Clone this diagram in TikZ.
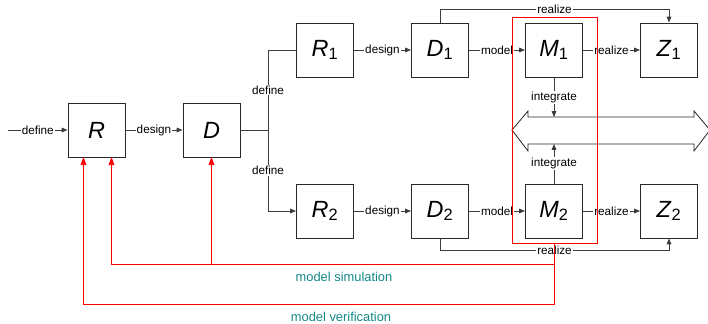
\documentclass[tikz,border=0pt]{standalone}
\usepackage{fontspec}
\setmainfont{Liberation Sans}
\usetikzlibrary{arrows.meta}
\definecolor{boxline}{RGB}{40,40,40}
\definecolor{wire}{RGB}{60,60,60}
\definecolor{noteteal}{RGB}{20,135,135}
\newcommand{\blocklabel}[2]{\textit{#1}\textsubscript{#2}}
\newcommand{\drawchain}[2]{
  \node[blk] (R#1) at (325,#2) {\blocklabel{R}{#1}};
  \node[blk] (D#1) at (440,#2) {\blocklabel{D}{#1}};
  \node[blk] (M#1) at (554,#2) {\blocklabel{M}{#1}};
  \node[blk] (Z#1) at (669,#2) {\blocklabel{Z}{#1}};
  \draw[flow] (R#1) -- node[lbl]{design} (D#1);
  \draw[flow] (D#1) -- node[lbl]{model} (M#1);
  \draw[flow] (M#1) -- node[lbl]{realize} (Z#1);
}

\begin{document}
\begin{tikzpicture}[x=0.03cm,y=-0.03cm,
    blk/.style={draw=boxline,line width=0.8pt,minimum width=1.71cm,minimum height=1.62cm,
      inner sep=0pt,font=\fontsize{20}{24}\selectfont},
    lbl/.style={fill=white,inner sep=1pt,font=\fontsize{10}{12}\selectfont},
    flow/.style={draw=wire,line width=0.7pt,-{Triangle[length=5pt,width=4pt]}},
    wireline/.style={draw=wire,line width=0.7pt},
    fb/.style={draw=red,line width=0.8pt},
    fbarrow/.style={fb,-{Triangle[length=7pt,width=5pt]},red},
    note/.style={text=noteteal,font=\fontsize{11}{13}\selectfont}]
  \useasboundingbox (0,0) rectangle (708,323);

  % top level
  \node[blk] (R) at (96.5,130) {\textit{R}};
  \node[blk] (D) at (211.5,130) {\textit{D}};
  \coordinate (in) at (8,130);
  \draw[flow] (in) -- node[lbl]{define} (R);
  \draw[flow] (R) -- node[lbl]{design} (D);

  % the two chains
  \drawchain{1}{50}
  \drawchain{2}{211}

  % split into R1 and R2
  \coordinate (split) at (268,130);
  \coordinate (up) at (268,50);
  \coordinate (down) at (268,211);
  \draw[wireline] (D) -- (split);
  \draw[wireline] (split) -- node[lbl]{define} (up) -- (R1);
  \draw[wireline] (split) -- node[lbl]{define} (down);
  \draw[flow] (down) -- (R2);

  % realize bypasses
  \draw[flow] (D1.north) -- ++(0,-13) -| node[lbl,pos=0.25]{realize} (Z1.north);
  \draw[flow] (D2.south) -- ++(0,12) -| node[lbl,pos=0.25]{realize} (Z2.south);

  % integration bus
  \coordinate (bustop) at (554,117);
  \coordinate (busbot) at (554,144);
  \draw[line width=0.7pt,draw=boxline] (512,130) -- (528,111) -- (528,117) -- (694,117) -- (694,111)
    -- (710,130) -- (694,151) -- (694,144) -- (528,144) -- (528,151) -- cycle;
  \draw[flow] (M1) -- node[lbl]{integrate} (bustop);
  \draw[flow] (M2) -- node[lbl]{integrate} (busbot);

  % red group round the models
  \coordinate (grpnw) at (512.5,17.5);
  \coordinate (grpse) at (597.5,243.5);
  \coordinate (grpbot) at (554.5,243.5);
  \draw[fb] (grpnw) rectangle (grpse);

  % feedback paths
  \coordinate (sim) at (554.5,264.5);
  \coordinate (ver) at (554.5,304.5);
  \coordinate (Rsim) at (111.5,157);
  \coordinate (Rver) at (83.5,157);
  \coordinate (Dfb) at (211.5,157);
  \draw[fb] (grpbot) -- (ver);
  \draw[fbarrow] (sim) -| (Rsim);
  \draw[fbarrow] (ver) -| (Rver);
  \draw[fbarrow] (Dfb |- sim) -- (Dfb);

  % captions
  \node[note] (simnote) at (344,277) {model simulation};
  \node[note] (vernote) at (341,317) {model verification};
\end{tikzpicture}
\end{document}
